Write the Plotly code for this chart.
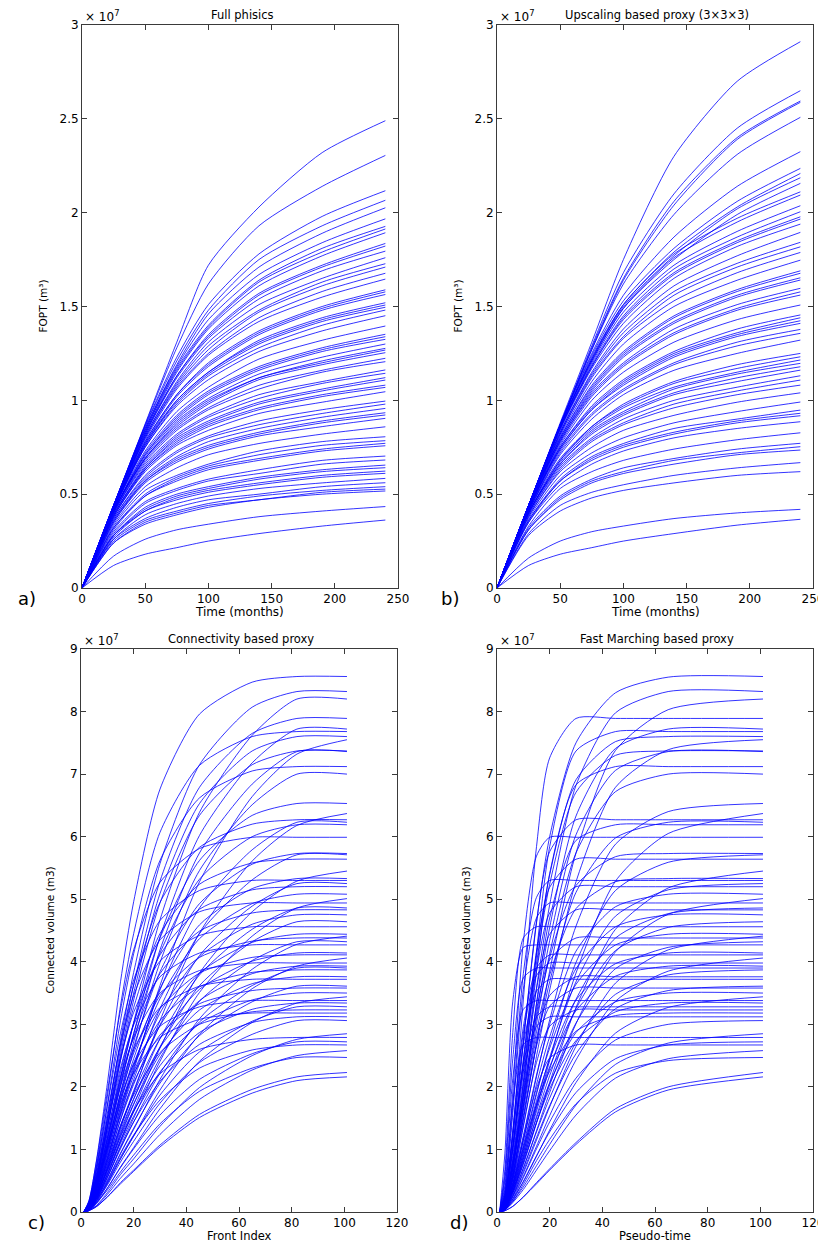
import plotly.graph_objects as go

# ---------------- data (values in units of 1e7) ----------------
a_time = [0, 25, 50, 75, 100, 140, 190, 240]
a_curves = [
    [0, 0.44, 0.875, 1.31, 1.72, 2.03, 2.32, 2.49],
    [0, 0.44, 0.87, 1.28, 1.62, 1.93, 2.14, 2.305],
    [0, 0.44, 0.865, 1.23, 1.51, 1.78, 1.98, 2.117],
    [0, 0.44, 0.86, 1.21, 1.48, 1.75, 1.93, 2.066],
    [0, 0.44, 0.85, 1.19, 1.46, 1.71, 1.89, 2.026],
    [0, 0.44, 0.85, 1.18, 1.43, 1.67, 1.84, 1.967],
    [0, 0.44, 0.84, 1.17, 1.40, 1.64, 1.81, 1.927],
    [0, 0.44, 0.84, 1.16, 1.39, 1.63, 1.79, 1.913],
    [0, 0.44, 0.83, 1.15, 1.38, 1.61, 1.77, 1.893],
    [0, 0.43, 0.83, 1.13, 1.35, 1.57, 1.72, 1.836],
    [0, 0.43, 0.82, 1.13, 1.34, 1.56, 1.71, 1.822],
    [0, 0.43, 0.82, 1.12, 1.33, 1.54, 1.69, 1.795],
    [0, 0.43, 0.81, 1.10, 1.31, 1.51, 1.65, 1.76],
    [0, 0.43, 0.81, 1.09, 1.29, 1.48, 1.63, 1.728],
    [0, 0.43, 0.80, 1.08, 1.27, 1.47, 1.61, 1.71],
    [0, 0.43, 0.80, 1.07, 1.25, 1.44, 1.58, 1.677],
    [0, 0.43, 0.79, 1.06, 1.24, 1.42, 1.55, 1.646],
    [0, 0.43, 0.78, 1.03, 1.20, 1.37, 1.50, 1.589],
    [0, 0.42, 0.78, 1.03, 1.19, 1.36, 1.49, 1.578],
    [0, 0.42, 0.77, 1.02, 1.18, 1.35, 1.48, 1.564],
    [0, 0.42, 0.77, 1.00, 1.15, 1.32, 1.44, 1.52],
    [0, 0.42, 0.76, 1.00, 1.15, 1.31, 1.43, 1.508],
    [0, 0.42, 0.76, 0.99, 1.14, 1.30, 1.42, 1.496],
    [0, 0.42, 0.75, 0.98, 1.13, 1.28, 1.40, 1.481],
    [0, 0.42, 0.75, 0.97, 1.11, 1.26, 1.37, 1.451],
    [0, 0.42, 0.73, 0.94, 1.07, 1.22, 1.32, 1.396],
    [0, 0.41, 0.72, 0.92, 1.05, 1.18, 1.28, 1.352],
    [0, 0.41, 0.71, 0.91, 1.04, 1.17, 1.27, 1.339],
    [0, 0.41, 0.71, 0.90, 1.03, 1.16, 1.26, 1.325],
    [0, 0.41, 0.70, 0.89, 1.01, 1.14, 1.23, 1.30],
    [0, 0.41, 0.69, 0.88, 1.00, 1.12, 1.21, 1.277],
    [0, 0.41, 0.69, 0.87, 0.99, 1.12, 1.20, 1.268],
    [0, 0.41, 0.69, 0.86, 0.98, 1.11, 1.19, 1.254],
    [0, 0.40, 0.68, 0.85, 0.96, 1.08, 1.16, 1.224],
    [0, 0.40, 0.67, 0.84, 0.95, 1.06, 1.15, 1.206],
    [0, 0.40, 0.66, 0.82, 0.92, 1.03, 1.10, 1.162],
    [0, 0.39, 0.65, 0.81, 0.91, 1.01, 1.09, 1.144],
    [0, 0.39, 0.64, 0.80, 0.89, 0.99, 1.06, 1.121],
    [0, 0.39, 0.64, 0.79, 0.88, 0.98, 1.05, 1.108],
    [0, 0.38, 0.63, 0.78, 0.87, 0.96, 1.03, 1.081],
    [0, 0.38, 0.63, 0.77, 0.86, 0.95, 1.02, 1.069],
    [0, 0.38, 0.62, 0.76, 0.84, 0.93, 0.99, 1.046],
    [0, 0.37, 0.60, 0.73, 0.81, 0.89, 0.95, 0.996],
    [0, 0.37, 0.59, 0.72, 0.80, 0.87, 0.93, 0.98],
    [0, 0.36, 0.58, 0.70, 0.78, 0.85, 0.91, 0.957],
    [0, 0.36, 0.57, 0.69, 0.76, 0.83, 0.89, 0.934],
    [0, 0.35, 0.57, 0.68, 0.75, 0.82, 0.88, 0.922],
    [0, 0.35, 0.56, 0.67, 0.74, 0.81, 0.86, 0.904],
    [0, 0.34, 0.54, 0.64, 0.71, 0.77, 0.82, 0.859],
    [0, 0.33, 0.52, 0.60, 0.66, 0.73, 0.78, 0.806],
    [0, 0.32, 0.50, 0.59, 0.65, 0.71, 0.76, 0.785],
    [0, 0.32, 0.49, 0.58, 0.64, 0.69, 0.74, 0.771],
    [0, 0.31, 0.49, 0.57, 0.63, 0.68, 0.73, 0.758],
    [0, 0.30, 0.46, 0.53, 0.58, 0.63, 0.68, 0.703],
    [0, 0.29, 0.45, 0.52, 0.57, 0.61, 0.66, 0.682],
    [0, 0.28, 0.43, 0.50, 0.54, 0.59, 0.63, 0.655],
    [0, 0.28, 0.42, 0.49, 0.53, 0.58, 0.62, 0.641],
    [0, 0.28, 0.41, 0.48, 0.52, 0.56, 0.60, 0.623],
    [0, 0.27, 0.41, 0.47, 0.51, 0.55, 0.59, 0.611],
    [0, 0.26, 0.39, 0.45, 0.49, 0.53, 0.56, 0.584],
    [0, 0.26, 0.37, 0.43, 0.47, 0.50, 0.54, 0.561],
    [0, 0.25, 0.36, 0.41, 0.45, 0.49, 0.52, 0.54],
    [0, 0.24, 0.35, 0.40, 0.44, 0.47, 0.51, 0.527],
    [0, 0.24, 0.34, 0.39, 0.43, 0.47, 0.50, 0.517],
    [0, 0.17, 0.26, 0.31, 0.34, 0.38, 0.41, 0.434],
    [0, 0.12, 0.18, 0.215, 0.25, 0.29, 0.33, 0.362],
]

b_time = [0, 25, 50, 75, 100, 140, 190, 240]
b_curves = [
    [0, 0.44, 0.88, 1.31, 1.75, 2.30, 2.70, 2.911],
    [0, 0.44, 0.87, 1.29, 1.68, 2.10, 2.45, 2.65],
    [0, 0.44, 0.87, 1.28, 1.65, 2.06, 2.40, 2.595],
    [0, 0.44, 0.87, 1.27, 1.64, 2.04, 2.39, 2.588],
    [0, 0.44, 0.87, 1.27, 1.62, 1.99, 2.31, 2.508],
    [0, 0.44, 0.87, 1.25, 1.56, 1.87, 2.14, 2.325],
    [0, 0.44, 0.87, 1.24, 1.53, 1.81, 2.06, 2.236],
    [0, 0.44, 0.86, 1.23, 1.51, 1.79, 2.03, 2.209],
    [0, 0.44, 0.86, 1.22, 1.50, 1.77, 2.02, 2.186],
    [0, 0.44, 0.86, 1.21, 1.49, 1.75, 1.99, 2.156],
    [0, 0.44, 0.86, 1.22, 1.51, 1.78, 1.97, 2.111],
    [0, 0.44, 0.86, 1.21, 1.49, 1.76, 1.95, 2.094],
    [0, 0.44, 0.85, 1.20, 1.47, 1.72, 1.90, 2.037],
    [0, 0.44, 0.85, 1.19, 1.45, 1.70, 1.87, 2.005],
    [0, 0.44, 0.85, 1.18, 1.44, 1.68, 1.85, 1.978],
    [0, 0.44, 0.85, 1.18, 1.43, 1.67, 1.84, 1.966],
    [0, 0.44, 0.84, 1.17, 1.41, 1.65, 1.82, 1.939],
    [0, 0.44, 0.83, 1.15, 1.38, 1.61, 1.77, 1.895],
    [0, 0.43, 0.83, 1.14, 1.36, 1.58, 1.73, 1.842],
    [0, 0.43, 0.82, 1.13, 1.34, 1.56, 1.71, 1.818],
    [0, 0.43, 0.82, 1.12, 1.33, 1.53, 1.68, 1.788],
    [0, 0.43, 0.81, 1.10, 1.30, 1.50, 1.64, 1.747],
    [0, 0.43, 0.80, 1.08, 1.26, 1.45, 1.59, 1.69],
    [0, 0.43, 0.80, 1.07, 1.25, 1.44, 1.58, 1.677],
    [0, 0.43, 0.79, 1.06, 1.24, 1.42, 1.56, 1.653],
    [0, 0.43, 0.79, 1.05, 1.23, 1.41, 1.55, 1.641],
    [0, 0.43, 0.78, 1.04, 1.20, 1.38, 1.51, 1.597],
    [0, 0.42, 0.78, 1.03, 1.19, 1.36, 1.49, 1.578],
    [0, 0.42, 0.77, 1.02, 1.18, 1.35, 1.48, 1.561],
    [0, 0.42, 0.76, 1.00, 1.15, 1.31, 1.43, 1.508],
    [0, 0.42, 0.75, 0.97, 1.11, 1.26, 1.38, 1.455],
    [0, 0.42, 0.75, 0.96, 1.10, 1.25, 1.36, 1.44],
    [0, 0.42, 0.74, 0.95, 1.09, 1.24, 1.35, 1.424],
    [0, 0.42, 0.74, 0.95, 1.08, 1.23, 1.34, 1.41],
    [0, 0.41, 0.73, 0.93, 1.06, 1.20, 1.31, 1.378],
    [0, 0.41, 0.72, 0.92, 1.05, 1.19, 1.29, 1.357],
    [0, 0.41, 0.71, 0.90, 1.03, 1.16, 1.25, 1.321],
    [0, 0.41, 0.69, 0.86, 0.98, 1.10, 1.19, 1.25],
    [0, 0.40, 0.68, 0.86, 0.97, 1.09, 1.17, 1.232],
    [0, 0.40, 0.68, 0.85, 0.96, 1.07, 1.15, 1.215],
    [0, 0.40, 0.67, 0.84, 0.94, 1.06, 1.14, 1.197],
    [0, 0.40, 0.66, 0.83, 0.93, 1.04, 1.12, 1.179],
    [0, 0.40, 0.66, 0.82, 0.92, 1.03, 1.10, 1.161],
    [0, 0.39, 0.65, 0.80, 0.90, 1.00, 1.07, 1.131],
    [0, 0.39, 0.64, 0.79, 0.88, 0.98, 1.05, 1.108],
    [0, 0.38, 0.63, 0.78, 0.87, 0.96, 1.03, 1.081],
    [0, 0.38, 0.62, 0.75, 0.84, 0.92, 0.99, 1.04],
    [0, 0.37, 0.60, 0.72, 0.80, 0.88, 0.94, 0.991],
    [0, 0.36, 0.58, 0.70, 0.77, 0.85, 0.90, 0.948],
    [0, 0.36, 0.57, 0.69, 0.76, 0.83, 0.89, 0.931],
    [0, 0.35, 0.57, 0.68, 0.75, 0.82, 0.88, 0.918],
    [0, 0.35, 0.55, 0.66, 0.73, 0.80, 0.85, 0.886],
    [0, 0.33, 0.53, 0.62, 0.68, 0.74, 0.79, 0.827],
    [0, 0.32, 0.49, 0.58, 0.64, 0.69, 0.74, 0.771],
    [0, 0.31, 0.48, 0.57, 0.62, 0.68, 0.72, 0.753],
    [0, 0.31, 0.47, 0.56, 0.61, 0.66, 0.71, 0.735],
    [0, 0.29, 0.44, 0.51, 0.55, 0.60, 0.64, 0.668],
    [0, 0.28, 0.41, 0.48, 0.52, 0.56, 0.60, 0.62],
    [0, 0.16, 0.25, 0.30, 0.33, 0.37, 0.40, 0.419],
    [0, 0.12, 0.18, 0.215, 0.25, 0.29, 0.335, 0.366],
]

c_index = [1, 3, 6, 10, 15, 20, 30, 45, 65, 82, 101]
c_curves = [
    [0, 0.17, 0.86, 2.05, 3.68, 4.96, 6.76, 7.96, 8.47, 8.56, 8.56],
    [0, 0.12, 0.58, 1.50, 2.74, 3.83, 5.57, 7.15, 8.07, 8.32, 8.32],
    [0, 0.08, 0.49, 1.15, 2.13, 3.03, 4.67, 6.39, 7.62, 8.20, 8.20],
    [0, 0.12, 0.55, 1.42, 2.60, 3.63, 5.29, 6.79, 7.65, 7.89, 7.89],
    [0, 0.08, 0.46, 1.08, 2.01, 2.85, 4.40, 6.02, 7.18, 7.72, 7.72],
    [0, 0.15, 0.77, 1.84, 3.30, 4.45, 6.07, 7.14, 7.60, 7.68, 7.68],
    [0, 0.11, 0.53, 1.37, 2.51, 3.50, 5.09, 6.53, 7.37, 7.60, 7.60],
    [0, 0.08, 0.30, 0.83, 1.58, 2.26, 3.62, 5.28, 6.64, 7.32, 7.55],
    [0, 0.11, 0.52, 1.33, 2.43, 3.39, 4.94, 6.34, 7.15, 7.37, 7.37],
    [0, 0.07, 0.44, 1.03, 1.91, 2.72, 4.19, 5.74, 6.84, 7.36, 7.36],
    [0, 0.14, 0.71, 1.71, 3.06, 4.13, 5.62, 6.62, 7.05, 7.12, 7.12],
    [0, 0.07, 0.42, 0.98, 1.82, 2.59, 3.99, 5.46, 6.51, 7.00, 7.00],
    [0, 0.10, 0.46, 1.18, 2.16, 3.01, 4.38, 5.62, 6.34, 6.53, 6.53],
    [0, 0.06, 0.25, 0.70, 1.34, 1.91, 3.06, 4.46, 5.61, 6.18, 6.37],
    [0, 0.13, 0.63, 1.50, 2.69, 3.63, 4.95, 5.83, 6.20, 6.27, 6.27],
    [0, 0.06, 0.37, 0.87, 1.62, 2.30, 3.55, 4.86, 5.79, 6.23, 6.23],
    [0, 0.09, 0.43, 1.11, 2.04, 2.85, 4.14, 5.32, 6.00, 6.19, 6.19],
    [0, 0.18, 0.84, 1.92, 3.23, 4.19, 5.27, 5.81, 5.99, 5.99, 5.99],
    [0, 0.09, 0.40, 1.03, 1.89, 2.64, 3.84, 4.93, 5.56, 5.73, 5.73],
    [0, 0.06, 0.34, 0.80, 1.48, 2.11, 3.25, 4.45, 5.31, 5.71, 5.71],
    [0, 0.11, 0.56, 1.35, 2.42, 3.27, 4.45, 5.24, 5.58, 5.64, 5.64],
    [0, 0.05, 0.22, 0.60, 1.14, 1.64, 2.62, 3.82, 4.80, 5.29, 5.45],
    [0, 0.08, 0.37, 0.96, 1.76, 2.45, 3.57, 4.59, 5.17, 5.33, 5.33],
    [0, 0.16, 0.74, 1.69, 2.86, 3.71, 4.66, 5.14, 5.30, 5.30, 5.30],
    [0, 0.05, 0.32, 0.74, 1.37, 1.94, 2.99, 4.10, 4.89, 5.25, 5.25],
    [0, 0.10, 0.52, 1.25, 2.24, 3.02, 4.11, 4.84, 5.15, 5.20, 5.20],
    [0, 0.08, 0.36, 0.91, 1.68, 2.34, 3.41, 4.37, 4.93, 5.08, 5.08],
    [0, 0.05, 0.20, 0.55, 1.05, 1.50, 2.41, 3.51, 4.41, 4.86, 5.01],
    [0, 0.15, 0.69, 1.58, 2.67, 3.46, 4.35, 4.80, 4.94, 4.94, 4.94],
    [0, 0.05, 0.29, 0.68, 1.26, 1.80, 2.77, 3.79, 4.52, 4.86, 4.86],
    [0, 0.10, 0.48, 1.16, 2.08, 2.80, 3.81, 4.49, 4.78, 4.83, 4.83],
    [0, 0.07, 0.33, 0.85, 1.57, 2.18, 3.18, 4.08, 4.60, 4.75, 4.75],
    [0, 0.05, 0.28, 0.65, 1.21, 1.72, 2.64, 3.62, 4.32, 4.64, 4.64],
    [0, 0.14, 0.64, 1.46, 2.46, 3.19, 4.01, 4.42, 4.56, 4.56, 4.56],
    [0, 0.07, 0.31, 0.80, 1.47, 2.04, 2.98, 3.82, 4.31, 4.44, 4.44],
    [0, 0.04, 0.18, 0.49, 0.93, 1.32, 2.12, 3.09, 3.88, 4.28, 4.41],
    [0, 0.09, 0.44, 1.05, 1.88, 2.54, 3.46, 4.07, 4.33, 4.38, 4.38],
    [0, 0.04, 0.26, 0.60, 1.12, 1.60, 2.46, 3.37, 4.02, 4.32, 4.32],
    [0, 0.13, 0.60, 1.37, 2.30, 2.99, 3.76, 4.14, 4.27, 4.27, 4.27],
    [0, 0.06, 0.29, 0.74, 1.36, 1.90, 2.77, 3.56, 4.01, 4.14, 4.14],
    [0, 0.08, 0.41, 0.99, 1.77, 2.38, 3.25, 3.82, 4.07, 4.11, 4.11],
    [0, 0.04, 0.16, 0.45, 0.85, 1.22, 1.95, 2.84, 3.57, 3.93, 4.06],
    [0, 0.12, 0.56, 1.27, 2.15, 2.78, 3.50, 3.86, 3.98, 3.98, 3.98],
    [0, 0.06, 0.28, 0.71, 1.30, 1.81, 2.63, 3.38, 3.81, 3.93, 3.93],
    [0, 0.04, 0.23, 0.55, 1.01, 1.44, 2.22, 3.04, 3.62, 3.90, 3.90],
    [0, 0.08, 0.39, 0.93, 1.66, 2.24, 3.06, 3.60, 3.83, 3.87, 3.87],
    [0, 0.06, 0.26, 0.68, 1.24, 1.73, 2.52, 3.23, 3.65, 3.76, 3.76],
    [0, 0.11, 0.52, 1.19, 2.01, 2.60, 3.27, 3.61, 3.72, 3.72, 3.72],
    [0, 0.04, 0.22, 0.51, 0.94, 1.34, 2.06, 2.82, 3.36, 3.61, 3.61],
    [0, 0.07, 0.36, 0.86, 1.54, 2.07, 2.83, 3.33, 3.54, 3.58, 3.58],
    [0, 0.05, 0.24, 0.63, 1.15, 1.61, 2.34, 3.01, 3.39, 3.50, 3.50],
    [0, 0.03, 0.14, 0.38, 0.72, 1.03, 1.65, 2.41, 3.03, 3.34, 3.44],
    [0, 0.10, 0.47, 1.08, 1.82, 2.36, 2.97, 3.28, 3.38, 3.38, 3.38],
    [0, 0.05, 0.23, 0.60, 1.10, 1.53, 2.24, 2.87, 3.24, 3.34, 3.34],
    [0, 0.03, 0.20, 0.46, 0.85, 1.21, 1.87, 2.56, 3.05, 3.28, 3.28],
    [0, 0.06, 0.32, 0.77, 1.39, 1.87, 2.55, 3.00, 3.20, 3.23, 3.23],
    [0, 0.10, 0.44, 1.02, 1.72, 2.22, 2.79, 3.08, 3.18, 3.18, 3.18],
    [0, 0.05, 0.22, 0.56, 1.03, 1.44, 2.09, 2.68, 3.03, 3.12, 3.12],
    [0, 0.03, 0.18, 0.43, 0.80, 1.13, 1.74, 2.39, 2.84, 3.06, 3.06],
    [0, 0.03, 0.11, 0.31, 0.60, 0.85, 1.37, 1.99, 2.50, 2.76, 2.85],
    [0, 0.06, 0.28, 0.67, 1.20, 1.62, 2.21, 2.60, 2.76, 2.79, 2.79],
    [0, 0.03, 0.16, 0.38, 0.71, 1.01, 1.55, 2.12, 2.53, 2.72, 2.72],
    [0, 0.04, 0.19, 0.48, 0.88, 1.23, 1.79, 2.30, 2.59, 2.67, 2.67],
    [0, 0.03, 0.10, 0.28, 0.54, 0.77, 1.24, 1.80, 2.27, 2.50, 2.58],
    [0, 0.02, 0.15, 0.35, 0.64, 0.91, 1.41, 1.93, 2.30, 2.47, 2.47],
    [0, 0.02, 0.09, 0.24, 0.47, 0.67, 1.07, 1.56, 1.96, 2.16, 2.23],
    [0, 0.02, 0.09, 0.24, 0.45, 0.65, 1.04, 1.51, 1.90, 2.10, 2.16],
]

d_time = [1, 3, 6, 10, 15, 20, 30, 45, 65, 101]
d_curves = [
    [0, 0.26, 1.20, 2.74, 4.62, 6.00, 7.50, 8.30, 8.55, 8.56],
    [0, 0.17, 0.83, 2.00, 3.58, 4.91, 6.82, 7.98, 8.32, 8.32],
    [0, 0.12, 0.57, 1.48, 2.70, 3.85, 5.74, 7.38, 8.03, 8.20],
    [0, 0.24, 1.26, 3.39, 5.84, 7.26, 7.89, 7.89, 7.89, 7.89],
    [0, 0.15, 0.77, 1.85, 3.32, 4.55, 6.33, 7.41, 7.72, 7.72],
    [0, 0.15, 0.69, 2.07, 4.15, 5.84, 7.37, 7.68, 7.68, 7.68],
    [0, 0.23, 1.06, 2.43, 4.10, 5.39, 6.91, 7.52, 7.60, 7.60],
    [0, 0.11, 0.53, 1.36, 2.49, 3.55, 5.28, 6.79, 7.39, 7.55],
    [0, 0.22, 1.03, 2.36, 3.98, 5.24, 6.71, 7.30, 7.37, 7.37],
    [0, 0.15, 0.74, 1.77, 3.16, 4.34, 6.03, 7.06, 7.36, 7.36],
    [0, 0.14, 0.64, 1.92, 3.84, 5.41, 6.83, 7.12, 7.12, 7.12],
    [0, 0.14, 0.70, 1.68, 3.01, 4.13, 5.74, 6.72, 7.00, 7.00],
    [0, 0.10, 0.46, 1.18, 2.16, 3.07, 4.57, 5.88, 6.40, 6.53],
    [0, 0.06, 0.38, 0.89, 1.66, 2.42, 3.82, 5.29, 6.05, 6.37],
    [0, 0.19, 1.00, 2.69, 4.64, 5.76, 6.27, 6.27, 6.27, 6.27],
    [0, 0.12, 0.62, 1.49, 2.68, 3.68, 5.11, 5.98, 6.23, 6.23],
    [0, 0.12, 0.56, 1.67, 3.34, 4.70, 5.94, 6.19, 6.19, 6.19],
    [0, 0.36, 1.92, 4.31, 5.69, 5.99, 5.99, 5.99, 5.99, 5.99],
    [0, 0.17, 0.80, 1.83, 3.10, 4.07, 5.22, 5.68, 5.73, 5.73],
    [0, 0.09, 0.40, 1.03, 1.88, 2.68, 3.99, 5.14, 5.59, 5.71],
    [0, 0.17, 0.90, 2.42, 4.17, 5.19, 5.64, 5.64, 5.64, 5.64],
    [0, 0.05, 0.33, 0.76, 1.42, 2.07, 3.27, 4.52, 5.18, 5.45],
    [0, 0.16, 0.75, 1.71, 2.88, 3.79, 4.85, 5.28, 5.33, 5.33],
    [0, 0.32, 1.69, 3.81, 5.03, 5.30, 5.30, 5.30, 5.30, 5.30],
    [0, 0.08, 0.37, 0.95, 1.73, 2.47, 3.68, 4.73, 5.15, 5.25],
    [0, 0.16, 0.83, 2.24, 3.85, 4.78, 5.20, 5.20, 5.20, 5.20],
    [0, 0.10, 0.51, 1.22, 2.19, 3.00, 4.17, 4.88, 5.08, 5.08],
    [0, 0.05, 0.30, 0.70, 1.30, 1.91, 3.01, 4.16, 4.76, 5.01],
    [0, 0.30, 1.58, 3.56, 4.70, 4.94, 4.94, 4.94, 4.94, 4.94],
    [0, 0.07, 0.34, 0.88, 1.61, 2.29, 3.40, 4.38, 4.77, 4.86],
    [0, 0.14, 0.77, 2.08, 3.57, 4.44, 4.83, 4.83, 4.83, 4.83],
    [0, 0.09, 0.47, 1.14, 2.04, 2.80, 3.89, 4.56, 4.75, 4.75],
    [0, 0.07, 0.32, 0.84, 1.53, 2.18, 3.25, 4.18, 4.55, 4.64],
    [0, 0.68, 2.87, 4.38, 4.56, 4.56, 4.56, 4.56, 4.56, 4.56],
    [0, 0.09, 0.44, 1.07, 1.91, 2.62, 3.64, 4.27, 4.44, 4.44],
    [0, 0.04, 0.26, 0.62, 1.15, 1.68, 2.65, 3.66, 4.19, 4.41],
    [0, 0.13, 0.70, 1.88, 3.24, 4.03, 4.38, 4.38, 4.38, 4.38],
    [0, 0.06, 0.30, 0.78, 1.43, 2.03, 3.02, 3.89, 4.23, 4.32],
    [0, 0.94, 3.37, 4.23, 4.27, 4.27, 4.27, 4.27, 4.27, 4.27],
    [0, 0.08, 0.41, 0.99, 1.78, 2.44, 3.39, 3.97, 4.14, 4.14],
    [0, 0.25, 1.31, 2.96, 3.90, 4.11, 4.11, 4.11, 4.11, 4.11],
    [0, 0.04, 0.24, 0.57, 1.05, 1.54, 2.43, 3.37, 3.85, 4.06],
    [0, 0.24, 1.27, 2.86, 3.78, 3.98, 3.98, 3.98, 3.98, 3.98],
    [0, 0.08, 0.39, 0.94, 1.69, 2.32, 3.22, 3.77, 3.93, 3.93],
    [0, 0.58, 2.45, 3.74, 3.90, 3.90, 3.90, 3.90, 3.90, 3.90],
    [0, 0.06, 0.27, 0.70, 1.28, 1.82, 2.71, 3.48, 3.79, 3.87],
    [0, 0.11, 0.60, 1.62, 2.78, 3.46, 3.76, 3.76, 3.76, 3.76],
    [0, 0.22, 1.19, 2.68, 3.53, 3.72, 3.72, 3.72, 3.72, 3.72],
    [0, 0.05, 0.25, 0.65, 1.19, 1.70, 2.53, 3.25, 3.54, 3.61],
    [0, 0.11, 0.57, 1.54, 2.65, 3.29, 3.58, 3.58, 3.58, 3.58],
    [0, 0.07, 0.35, 0.84, 1.50, 2.06, 2.87, 3.36, 3.50, 3.50],
    [0, 0.03, 0.21, 0.48, 0.89, 1.31, 2.07, 2.86, 3.27, 3.44],
    [0, 0.51, 2.13, 3.24, 3.38, 3.38, 3.38, 3.38, 3.38, 3.38],
    [0, 0.07, 0.33, 0.80, 1.43, 1.97, 2.74, 3.20, 3.34, 3.34],
    [0, 0.20, 1.05, 2.36, 3.12, 3.28, 3.28, 3.28, 3.28, 3.28],
    [0, 0.10, 0.52, 1.39, 2.39, 2.97, 3.23, 3.23, 3.23, 3.23],
    [0, 0.10, 0.44, 1.02, 1.72, 2.25, 2.89, 3.14, 3.18, 3.18],
    [0, 0.19, 1.00, 2.25, 2.97, 3.12, 3.12, 3.12, 3.12, 3.12],
    [0, 0.05, 0.21, 0.55, 1.01, 1.44, 2.14, 2.75, 3.00, 3.06],
    [0, 0.03, 0.17, 0.40, 0.74, 1.08, 1.71, 2.36, 2.70, 2.85],
    [0, 0.42, 1.76, 2.68, 2.79, 2.79, 2.79, 2.79, 2.79, 2.79],
    [0, 0.04, 0.19, 0.49, 0.90, 1.28, 1.91, 2.45, 2.67, 2.72],
    [0, 0.08, 0.43, 1.15, 1.98, 2.46, 2.67, 2.67, 2.67, 2.67],
    [0, 0.03, 0.15, 0.36, 0.67, 0.98, 1.55, 2.14, 2.45, 2.58],
    [0, 0.04, 0.17, 0.44, 0.82, 1.16, 1.73, 2.22, 2.42, 2.47],
    [0, 0.02, 0.09, 0.24, 0.47, 0.69, 1.11, 1.65, 2.00, 2.23],
    [0, 0.02, 0.09, 0.24, 0.45, 0.67, 1.08, 1.60, 1.95, 2.16],
]

titles = ["Full phisics", "Upscaling based proxy (3\u00d73\u00d73)",
          "Connectivity based proxy", "Fast Marching based proxy"]
x_titles = ["Time (months)", "Time (months)", "Front Index", "Pseudo-time"]
y_titles = ["FOPT (m\u00b3)", "FOPT (m\u00b3)", "Connected volume (m3)", "Connected volume (m3)"]
panel_tags = ["a)", "b)", "c)", "d)"]
top_yticks = [0, 0.5, 1, 1.5, 2, 2.5, 3]
top_ytext = ["0", "0.5", "1", "1.5", "2", "2.5", "3"]
top_xticks = [0, 50, 100, 150, 200, 250]
bot_yticks = [0, 1, 2, 3, 4, 5, 6, 7, 8, 9]
bot_xticks = [0, 20, 40, 60, 80, 100, 120]

# ---------------- layout geometry (page pixels) ----------------
OFF = 8                      # default page margin around the plot div
W, H = 826 - OFF, 1242 - OFF
px_x = [(82, 398), (497, 813), (81, 397), (497, 813)]
px_y = [(25, 588), (25, 588), (649, 1212), (649, 1212)]


def fx(p):
    return (p - OFF) / W


def fy(p):
    return 1 - (p - OFF) / H


FONT = "DejaVu Sans, Liberation Sans, Arial, sans-serif"
LINE_C = "#3a3a3a"

fig = go.Figure()
panels = [(a_time, a_curves), (b_time, b_curves), (c_index, c_curves), (d_time, d_curves)]
for i, (xs, curves) in enumerate(panels):
    ax = "" if i == 0 else str(i + 1)
    for ys in curves:
        fig.add_trace(go.Scatter(
            x=xs, y=ys, mode="lines", xaxis="x" + ax, yaxis="y" + ax,
            line=dict(color="#0000ff", width=0.8, shape="spline", smoothing=0.7),
            showlegend=False, hoverinfo="skip"))

layout = dict(template="none", width=W, height=H, autosize=False,
              margin=dict(l=0, r=0, t=0, b=0, pad=0),
              paper_bgcolor="white", plot_bgcolor="white",
              font=dict(family=FONT, size=12, color="black"), annotations=[])

for i in range(4):
    ax = "" if i == 0 else str(i + 1)
    top = i < 2
    xa = dict(domain=[fx(px_x[i][0]), fx(px_x[i][1])], anchor="y" + ax,
              range=[0, 250] if top else [0, 120],
              tickvals=top_xticks if top else bot_xticks,
              ticktext=[str(v) for v in (top_xticks if top else bot_xticks)],
              showline=True, linecolor=LINE_C, linewidth=1, mirror="ticks",
              ticks="inside", ticklen=5, tickcolor=LINE_C, showgrid=False,
              zeroline=False, automargin=False,
              tickfont=dict(size=12, family=FONT, color="black"))
    ya = dict(domain=[fy(px_y[i][1]), fy(px_y[i][0])], anchor="x" + ax,
              range=[0, 3] if top else [0, 9],
              tickvals=top_yticks if top else bot_yticks,
              ticktext=top_ytext if top else [str(v) for v in bot_yticks],
              showline=True, linecolor=LINE_C, linewidth=1, mirror="ticks",
              ticks="inside", ticklen=5, tickcolor=LINE_C, showgrid=False,
              zeroline=False, automargin=False,
              tickfont=dict(size=12, family=FONT, color="black"))
    layout["xaxis" + ax] = xa
    layout["yaxis" + ax] = ya

    x0, x1 = px_x[i]
    y0, y1 = px_y[i]
    cx = (x0 + x1) / 2
    anns = layout["annotations"]
    anns.append(dict(text=titles[i], x=fx(cx + 2), y=fy(y0 - 10), xref="paper", yref="paper",
                     showarrow=False, xanchor="center", yanchor="middle",
                     font=dict(size=11.5, family=FONT, color="black")))
    anns.append(dict(text="\u00d7 10<sup>7</sup>", x=fx(x0 + 1), y=fy(y0 - 9), xref="paper", yref="paper",
                     showarrow=False, xanchor="left", yanchor="middle",
                     font=dict(size=12, family=FONT, color="black")))
    anns.append(dict(text=x_titles[i], x=fx(cx), y=fy(y1 + 24 if top else y1 + 24),
                     xref="paper", yref="paper",
                     showarrow=False, xanchor="center", yanchor="middle",
                     font=dict(size=12 if top else 11.5, family=FONT, color="black")))
    anns.append(dict(text=y_titles[i], x=fx(x0 - 40 if top else x0 - 32), y=fy((y0 + y1) / 2),
                     xref="paper", yref="paper", showarrow=False, textangle=-90,
                     xanchor="center", yanchor="middle",
                     font=dict(size=10.5, family=FONT, color="black")))
    tag_x = 27 if i % 2 == 0 else 450
    anns.append(dict(text=panel_tags[i], x=fx(tag_x if top else tag_x + 9), y=fy(y1 + 10),
                     xref="paper", yref="paper", showarrow=False, xanchor="center",
                     yanchor="middle", font=dict(size=18, family=FONT, color="black")))

fig.update_layout(**layout)
fig.write_html("out.html")
